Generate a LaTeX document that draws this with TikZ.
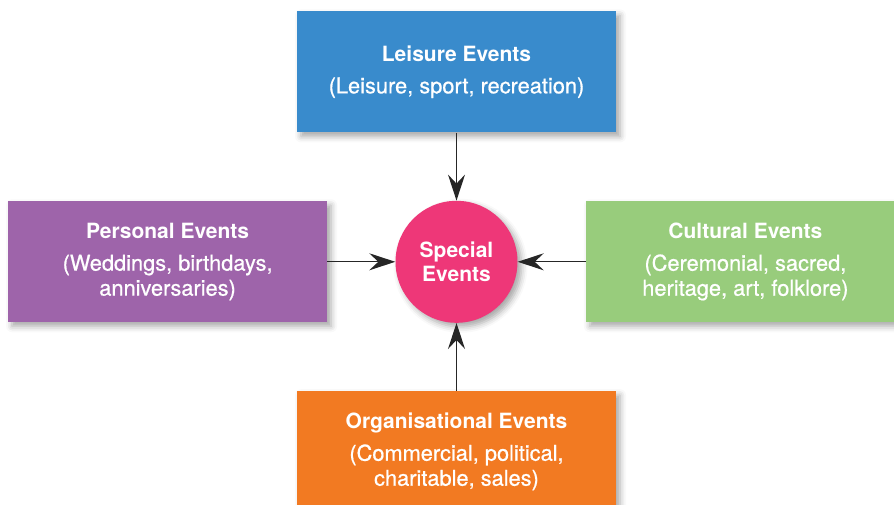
\documentclass[tikz,border=0pt]{standalone}
\usepackage{fontspec}
\setmainfont{TeX Gyre Heros}
\newfontfamily\subfont[FakeBold=0.7]{TeX Gyre Heros}
\usetikzlibrary{arrows.meta, positioning, shadows.blur}

\definecolor{leisureblue}{RGB}{57,139,204}
\definecolor{personalpurple}{RGB}{158,100,170}
\definecolor{culturalgreen}{RGB}{152,204,124}
\definecolor{orgorange}{RGB}{242,122,34}
\definecolor{specialpink}{RGB}{238,55,120}

% title line of an event box
\newcommand{\evtitle}[1]{{\normalfont\bfseries\fontsize{21}{25}\selectfont #1}\\[7pt]}

\begin{document}
\begin{tikzpicture}[
  x=1pt, y=1pt,
  node distance=68pt,
  softshadow/.style={
    blur shadow={shadow xshift=4pt, shadow yshift=-4pt,
      shadow blur radius=6pt, shadow opacity=35}
  },
  eventbox/.style={
    rectangle,
    softshadow,
    align=center,
    text=white,
    inner sep=0pt,
    minimum width=319pt,
    minimum height=121pt,
    font=\subfont\fontsize{21.8}{25}\selectfont
  },
  hubcircle/.style={
    circle,
    softshadow,
    fill=specialpink,
    align=center,
    text=white,
    inner sep=0pt,
    minimum size=122pt,
    font=\fontsize{21}{24}\selectfont\bfseries
  },
  flow/.style={-{Stealth[length=26pt, width=17pt, inset=9pt]}, line width=1.3pt, black!85}
]

\useasboundingbox (0,0) rectangle (894,504);

% Centre of the diagram
\node[hubcircle] (hub) at (456.5,242.2) {Special\\Events};

% The four event types round it
\node[eventbox, fill=leisureblue, above=of hub] (leisure)
  {\evtitle{Leisure Events} (Leisure, sport, recreation)};
\node[eventbox, fill=personalpurple, left=of hub] (personal)
  {\evtitle{Personal Events} (Weddings, birthdays,\\ anniversaries)};
\node[eventbox, fill=culturalgreen, right=of hub] (cultural)
  {\evtitle{Cultural Events} (Ceremonial, sacred,\\ heritage, art, folklore)};
\node[eventbox, fill=orgorange, below=of hub] (organisational)
  {\evtitle{Organisational Events} (Commercial, political,\\ charitable, sales)};

% Arrows into the centre
\draw[flow] (leisure) -- (hub);
\draw[flow] (personal) -- (hub);
\draw[flow] (cultural) -- (hub);
\draw[flow] (organisational) -- (hub);

\end{tikzpicture}
\end{document}
